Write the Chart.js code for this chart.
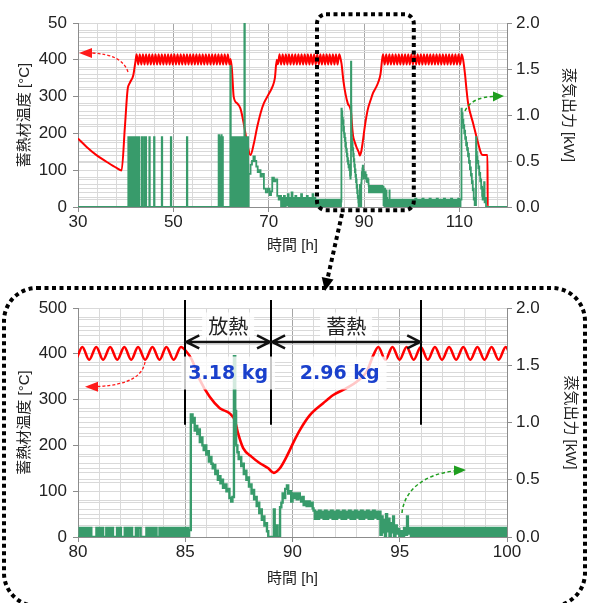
<!DOCTYPE html>
<html>
<head>
<meta charset="utf-8">
<script src="https://cdn.jsdelivr.net/npm/chart.js"></script>
<style>
html, body { margin: 0; padding: 0; background: #fff; }
#wrap { position: relative; width: 590px; height: 603px; overflow: hidden; }
#topChart { position: absolute; left: 0; top: 0; }
#bottomChart { position: absolute; left: 0; top: 285px; }
#overlay { position: absolute; left: 0; top: 0; }
</style>
</head>
<body>
<div id="wrap">
  <canvas id="topChart" width="590" height="263"></canvas>
  <canvas id="bottomChart" width="590" height="318"></canvas>
  <svg id="overlay" width="590" height="603" viewBox="0 0 590 603">
    <g fill="none" stroke="#000" stroke-width="4" stroke-dasharray="4 3.5">
      <rect x="317" y="14.3" width="96.8" height="196" rx="9"/>
      <path d="M342 214 L327.6 278.3"/>
      <rect x="4" y="288" width="581" height="318" rx="33"/>
    </g>
    <polygon points="325,291 333.5,279.6 321.7,277" fill="#000"/>
    <!-- curved arrows to the axes -->
    <path d="M128 72 C124 60 112 54 92 53" fill="none" stroke="#ff1a1a" stroke-width="1.3" stroke-dasharray="3 2"/>
    <polygon points="79,53 92,48 92,58" fill="#ff1a1a"/>
    <path d="M465 111 C469 102 479 97 493 96.5" fill="none" stroke="#1f9e1f" stroke-width="1.5" stroke-dasharray="3.5 2.5"/>
    <polygon points="504,96 493,91.5 493,101.5" fill="#1f9e1f"/>
    <path d="M145 362 C143 375 130 385 98 386.5" fill="none" stroke="#ff1a1a" stroke-width="1.3" stroke-dasharray="3 2"/>
    <polygon points="85,386.7 98,381.7 98,391.7" fill="#ff1a1a"/>
    <path d="M402 513 C404 490 425 474 454 471" fill="none" stroke="#1f9e1f" stroke-width="1.5" stroke-dasharray="3.5 2.5"/>
    <polygon points="466,470 454,465.5 454,475.5" fill="#1f9e1f"/>
  </svg>
</div>
<script>
// 蒸気出力 [kW] (stepped trace, each value holds from its hour to the next)
const steamHours = [
  30, 40.55, 40.65, 40.8, 40.9, 41.0, 41.1, 41.3, 41.4, 41.55, 41.65, 41.85, 41.95, 42.1, 42.2, 42.45, 42.55, 42.75, 42.85,
  43.35, 43.45, 43.84, 43.94, 44.2, 44.3, 44.96, 45.06, 45.95, 46.05, 47.57, 47.67, 49.47, 49.57, 52.84, 52.94,
  59.5, 59.6, 59.75, 59.85, 60.05, 60.15, 60.3, 60.4,
  61.95, 62.05, 62.2, 62.3, 62.4, 62.5, 62.6, 62.7, 62.8, 62.9, 63.0, 63.1, 63.2, 63.3, 63.4, 63.5, 63.6, 63.7, 63.8, 63.9,
  64.0, 64.1, 64.2, 64.3, 64.4, 64.5, 64.6, 64.7, 64.9, 65.0, 65.1, 65.2, 65.3, 65.4, 65.5, 65.6, 65.7,
  65.8, 66.2, 66.5, 66.8, 67.1, 67.4, 67.7, 68.0, 68.3, 68.6, 69.0, 69.4, 69.8, 70.2, 70.5, 70.75, 71.1, 71.4, 71.8, 72.1, 72.4,
  72.6, 72.8, 73.0, 73.2, 73.4, 73.6, 73.8, 74.0, 74.2, 74.4, 74.6, 74.8, 75.0, 75.2, 75.4, 75.6, 75.8, 76.0, 76.2, 76.4,
  76.6, 76.8, 77.0, 77.2, 77.4, 77.6, 77.8, 78.0, 78.2, 78.4, 78.6, 78.8, 79.0, 79.2, 79.4, 79.6, 79.8, 80.0,
  80.08, 80.15, 80.17, 80.22, 80.33, 80.4, 80.43, 80.5, 80.53, 80.62,
  80.86, 80.93, 80.96, 81.03, 81.06, 81.17, 81.32, 81.39, 81.42, 81.49, 81.52, 81.63,
  81.82, 81.89, 81.92, 82.0, 82.18, 82.25, 82.28, 82.35, 82.38, 82.45, 82.47, 82.52,
  82.7, 82.77, 82.8, 82.92, 83.19, 83.26, 83.29, 83.4, 83.45, 83.52, 83.55, 83.66,
  83.8, 83.86, 83.9, 83.96, 84.0, 84.06, 84.12, 84.18, 84.22, 84.28, 84.32, 84.4, 84.45, 84.51,
  84.55, 84.61, 84.66, 84.72, 84.76, 84.82, 84.86, 84.92, 84.97, 85.03, 85.08, 85.14, 85.18,
  85.26, 85.34, 85.38, 85.44, 85.5, 85.56, 85.62, 85.68, 85.74, 85.8, 85.86, 85.92, 85.98, 86.04, 86.1, 86.16, 86.22, 86.28,
  86.34, 86.4, 86.46, 86.52, 86.58, 86.64, 86.7, 86.76, 86.84, 86.92, 87.0, 87.06, 87.14, 87.2,
  87.27, 87.33, 87.37, 87.43, 87.49, 87.55, 87.61, 87.67, 87.73, 87.79, 87.85, 87.91, 87.97, 88.03,
  88.09, 88.15, 88.21, 88.27, 88.33, 88.39, 88.45, 88.51, 88.57, 88.63, 88.69, 88.75, 88.81, 88.87,
  89.13, 89.17, 89.27, 89.3, 89.42, 89.48, 89.54, 89.6, 89.66, 89.74, 89.8, 89.86, 89.94,
  90.0, 90.06, 90.14, 90.2, 90.28, 90.34, 90.4, 90.46, 90.52, 90.58, 90.66, 90.72, 90.8, 90.88, 90.94,
  90.98, 91.04, 91.1, 91.17, 91.24, 91.31, 91.38, 91.45, 91.52, 91.59, 91.66, 91.73, 91.8, 91.87, 91.94,
  92.01, 92.08, 92.15, 92.22, 92.29, 92.36, 92.43, 92.5, 92.57, 92.64, 92.71, 92.78, 92.85, 92.92, 92.99,
  93.06, 93.13, 93.2, 93.27, 93.34, 93.41, 93.48, 93.55, 93.62, 93.69, 93.76, 93.83, 93.9, 93.97, 94.04,
  94.1, 94.16, 94.2, 94.26, 94.31, 94.36, 94.41, 94.47, 94.52, 94.58, 94.63, 94.69, 94.73, 94.8, 94.86,
  94.92, 94.98, 95.06, 95.12, 95.2, 95.26, 95.34, 95.38,
  95.45, 95.52, 95.59, 95.66, 95.73, 95.8, 95.87, 95.94, 96.01, 96.08, 96.15, 96.22, 96.29, 96.36, 96.43, 96.5,
  96.57, 96.64, 96.71, 96.78, 96.85, 96.92, 96.99, 97.06, 97.13, 97.2, 97.27, 97.34, 97.41, 97.48, 97.55, 97.62,
  97.69, 97.76, 97.83, 97.9, 97.97, 98.04, 98.11, 98.18, 98.25, 98.32, 98.39, 98.46, 98.53, 98.6, 98.67, 98.74,
  98.81, 98.88, 98.95, 99.02, 99.09, 99.16, 99.23, 99.3, 99.37, 99.44, 99.51, 99.58, 99.65, 99.72, 99.79, 99.86,
  99.93, 100.0, 100.25, 100.5, 100.75, 101.0, 101.25, 101.5, 101.75, 102.0, 102.25, 102.5, 102.75, 103.0, 103.25, 103.5, 103.75, 104.0,
  104.25, 104.5, 104.75, 105.0, 105.25, 105.5, 105.75, 106.0, 106.25, 106.5, 106.75, 107.0, 107.25, 107.5, 107.75, 108.0, 108.25, 108.5, 108.75, 109.0, 109.25, 109.5, 109.75, 110.0, 110.25,
  110.45, 110.52, 110.6, 110.68, 110.76, 110.85, 110.94, 111.03, 111.12, 111.22, 111.32, 111.42, 111.52, 111.62, 111.72,
  111.82, 111.92, 112.02, 112.12, 112.22, 112.32, 112.42, 112.52, 112.62, 112.72, 112.82, 112.92, 113.02, 113.12, 113.22,
  113.5, 113.58, 113.68, 113.78, 113.88, 113.98, 114.08, 114.18, 114.28, 114.38, 114.48, 114.58, 114.68, 114.78, 114.88,
  115.0, 115.1, 115.2, 115.3, 115.45, 115.6, 120
];
const steamKW = [
  0, 0.76, 0, 0.76, 0, 0.76, 0, 0.76, 0, 0.76, 0, 0.76, 0, 0.76, 0, 0.76, 0, 0.76, 0,
  0.76, 0, 0.76, 0, 0.76, 0, 0.76, 0, 0.76, 0, 0.76, 0, 0.76, 0, 0.76, 0,
  0.78, 0, 0.76, 0, 0.78, 0, 0.76, 0,
  1.53, 0, 0.76, 0, 0.76, 0, 0.76, 0, 0.76, 0, 0.76, 0, 0.76, 0, 0.76, 0, 0.76, 0, 0.76, 0,
  0.76, 0, 0.76, 0, 0.76, 0, 0.76, 0, 2.0, 0.76, 0, 0.76, 0, 0.76, 0, 0.76, 0,
  0.36, 0.46, 0.5, 0.55, 0.5, 0.44, 0.38, 0.4, 0.33, 0.36, 0.2, 0.16, 0.2, 0.13, 0.17, 0.32, 0.28, 0.3, 0.12, 0.08, 0.12,
  0, 0.1, 0, 0.12, 0, 0.1, 0.02, 0.14, 0, 0.1, 0, 0.16, 0, 0.1, 0, 0.12, 0, 0.1, 0, 0.1,
  0, 0.14, 0, 0.1, 0, 0.1, 0, 0.12, 0, 0.1, 0, 0.1, 0, 0.14, 0, 0.1, 0, 0,
  0.08, 0, 0.08, 0, 0.08, 0, 0.08, 0, 0.08, 0,
  0.08, 0, 0.08, 0, 0.08, 0, 0.08, 0, 0.08, 0, 0.08, 0,
  0.08, 0, 0.08, 0, 0.08, 0, 0.08, 0, 0.08, 0, 0.08, 0,
  0.08, 0, 0.08, 0, 0.08, 0, 0.08, 0, 0.08, 0, 0.08, 0,
  0.08, 0, 0.08, 0, 0.08, 0, 0.08, 0, 0.08, 0, 0.08, 0, 0.08, 0,
  0.08, 0, 0.08, 0, 0.08, 0, 0.08, 0, 0.08, 0, 0.08, 0, 0.06,
  1.07, 1.0, 1.04, 0.93, 0.97, 0.9, 0.94, 0.83, 0.87, 0.8, 0.76, 0.8, 0.72, 0.75, 0.66, 0.7, 0.64, 0.6,
  0.63, 0.55, 0.58, 0.5, 0.53, 0.47, 0.5, 0.43, 0.46, 0.4, 0.42, 0.34, 0.31, 0.35,
  1.58, 1.1, 0.8, 0.74, 0.68, 0.7, 0.62, 0.64, 0.55, 0.58, 0.5, 0.52, 0.44, 0.46,
  0.38, 0.41, 0.33, 0.35, 0.27, 0.3, 0.21, 0.24, 0.15, 0.18, 0.1, 0.12, 0.05, 0,
  0.24, 0, 0.1, 0, 0.26, 0.3, 0.38, 0.34, 0.42, 0.45, 0.38, 0.4, 0.31,
  0.38, 0.34, 0.38, 0.33, 0.38, 0.34, 0.31, 0.35, 0.28, 0.31, 0.27, 0.31, 0.27, 0.3, 0.25,
  0.23, 0.16, 0.22, 0.16, 0.23, 0.17, 0.22, 0.16, 0.23, 0.16, 0.22, 0.17, 0.23, 0.16, 0.22,
  0.16, 0.23, 0.17, 0.22, 0.16, 0.23, 0.16, 0.22, 0.17, 0.23, 0.16, 0.22, 0.16, 0.23, 0.17,
  0.22, 0.16, 0.23, 0.16, 0.22, 0.17, 0.23, 0.16, 0.22, 0.16, 0.23, 0.17, 0.22, 0.16, 0.22,
  0.02, 0.18, 0.04, 0.15, 0, 0.2, 0.05, 0.16, 0, 0.12, 0.04, 0.18, 0, 0.1, 0.03,
  0.07, 0, 0.05, 0, 0.08, 0.02, 0.18, 0.03,
  0.08, 0, 0.08, 0, 0.08, 0, 0.08, 0, 0.08, 0, 0.08, 0, 0.08, 0, 0.08, 0,
  0.08, 0, 0.08, 0, 0.08, 0, 0.08, 0, 0.08, 0, 0.08, 0, 0.08, 0, 0.08, 0,
  0.08, 0, 0.08, 0, 0.08, 0, 0.08, 0, 0.08, 0, 0.08, 0, 0.08, 0, 0.08, 0,
  0.08, 0, 0.08, 0, 0.08, 0, 0.08, 0, 0.08, 0, 0.08, 0, 0.08, 0, 0.08, 0,
  0.08, 0, 0.08, 0, 0.09, 0, 0.08, 0, 0.08, 0.01, 0.09, 0, 0.08, 0, 0.08, 0, 0.09, 0,
  0.08, 0, 0.08, 0, 0.09, 0, 0.08, 0, 0.08, 0, 0.09, 0.01, 0.08, 0, 0.08, 0, 0.09, 0, 0.08, 0, 0.08, 0, 0.09, 0, 0.08,
  1.07, 0.98, 1.02, 0.92, 0.95, 0.86, 0.89, 0.8, 0.83, 0.74, 0.76, 0.67, 0.7, 0.62, 0.64,
  0.55, 0.58, 0.48, 0.5, 0.41, 0.43, 0.34, 0.36, 0.26, 0.28, 0.18, 0.2, 0.08, 0.1, 0.02,
  0.76, 0.6, 0.55, 0.48, 0.5, 0.42, 0.44, 0.35, 0.37, 0.28, 0.3, 0.2, 0.22, 0.12, 0.08,
  0.2, 0.1, 0.27, 0.05, 0.1, 0, 0
];

// 蓄熱材温度 [°C]
const tempHours = [
  30, 31.76, 33.87, 35.98, 38.09, 39.14, 39.84, 40.4, 40.9, 41.6, 42.05,
  42.3, 42.63, 42.96, 43.29, 43.62, 43.95, 44.28, 44.61, 44.94, 45.27, 45.6, 45.93, 46.26, 46.59, 46.92, 47.25, 47.58, 47.91, 48.24, 48.57,
  48.9, 49.23, 49.56, 49.89, 50.22, 50.55, 50.88, 51.21, 51.54, 51.87, 52.2, 52.53, 52.86, 53.19, 53.52, 53.85, 54.18, 54.51, 54.84, 55.17,
  55.5, 55.83, 56.16, 56.49, 56.82, 57.15, 57.48, 57.81, 58.14, 58.47, 58.8, 59.13, 59.46, 59.79, 60.12, 60.45, 60.78, 61.11, 61.44, 61.77,
  62.0, 62.3, 62.66, 63.37, 64.07, 64.77, 65.5, 66.18, 66.9, 67.6, 68.3, 69.0, 70.1, 70.8, 71.3, 71.7, 71.95,
  72.28, 72.61, 72.94, 73.27, 73.6, 73.93, 74.26, 74.59, 74.92, 75.25, 75.58, 75.91, 76.24, 76.57, 76.9, 77.23, 77.56, 77.89, 78.22, 78.55,
  78.88, 79.21, 79.54, 79.87, 80.2, 80.52, 80.85, 81.17, 81.5, 81.83, 82.16, 82.48, 82.8, 83.13, 83.47, 83.8, 84.12, 84.46, 84.8,
  85.05, 85.3, 85.68, 86.14, 86.61, 87.07, 87.31, 87.47, 87.7, 88.1, 88.48, 88.87, 89.13, 89.41, 89.72, 90.1, 90.35, 90.81, 91.43, 91.9, 92.52, 92.99, 93.46, 93.77,
  94.0, 94.33, 94.66, 94.99, 95.32, 95.65, 95.98, 96.31, 96.64, 96.97, 97.3, 97.63, 97.96, 98.29, 98.62, 98.95, 99.28, 99.61, 99.94, 100.27,
  100.6, 100.93, 101.26, 101.59, 101.92, 102.25, 102.58, 102.91, 103.24, 103.57, 103.9, 104.23, 104.56, 104.89, 105.22, 105.55, 105.88, 106.21, 106.54, 106.87,
  107.2, 107.53, 107.86, 108.19, 108.52, 108.85, 109.18, 109.51, 109.84, 110.17, 110.5,
  110.8, 111.2, 111.5, 111.84, 112.9, 113.95, 114.6, 114.9, 115.9, 115.95, 120
];
const tempC = [
  186, 164, 141, 123, 106, 99, 218, 318, 338, 358, 395,
  415, 387, 415, 387, 415, 387, 415, 387, 415, 387, 415, 387, 415, 387, 415, 387, 415, 387, 415, 387,
  415, 387, 415, 387, 415, 387, 415, 387, 415, 387, 415, 387, 415, 387, 415, 387, 415, 387, 415, 387,
  415, 387, 415, 387, 415, 387, 415, 387, 415, 387, 415, 387, 415, 387, 415, 387, 415, 387, 415, 387,
  402, 373, 300, 282, 268, 227, 173, 141, 173, 218, 255, 282, 309, 327, 350, 400, 388,
  415, 387, 415, 387, 415, 387, 415, 387, 415, 387, 415, 387, 415, 387, 415, 387, 415, 387, 415, 387,
  415, 387, 415, 387, 415, 387, 415, 387, 415, 387, 415, 387, 415, 387, 415, 387, 415, 387, 415,
  405, 388, 343, 306, 281, 270, 255, 225, 194, 175, 161, 150, 140, 150, 175, 212, 234, 266, 292, 310, 325, 339, 361, 397,
  415, 387, 415, 387, 415, 387, 415, 387, 415, 387, 415, 387, 415, 387, 415, 387, 415, 387, 415, 387,
  415, 387, 415, 387, 415, 387, 415, 387, 415, 387, 415, 387, 415, 387, 415, 387, 415, 387, 415, 387,
  415, 387, 415, 387, 415, 387, 415, 387, 415, 387, 415,
  400, 360, 320, 282, 227, 173, 145, 141, 141, 0, 0
];

// axes
const topXTicks = [30, 50, 70, 90, 110];
const bottomXTicks = [80, 85, 90, 95, 100];
const leftTickValues = [0, 100, 200, 300, 400, 500];
const topLeftTickText = ['0', '100', '200', '300', '400', '50'];
const bottomLeftTickText = ['0', '100', '200', '300', '400', '500'];
const rightTickValues = [0, 0.5, 1, 1.5, 2];
const rightTickText = ['0.0', '0.5', '1.0', '1.5', '2.0'];

// 放熱 / 蓄熱 annotations (bottom chart)
const markerHours = [85, 89, 96];
const markerLowC = 245;
const phaseStart = [85, 89];
const phaseEnd = [89, 96];
const phaseNames = ['放熱', '蓄熱'];
const phaseMass = ['3.18 kg', '2.96 kg'];
const massAt = [87.0, 92.2];
const arrowC = 426;
const nameC = 463;
const massC = 358;

if (steamHours.length !== steamKW.length) throw new Error('steam ' + steamHours.length + ' vs ' + steamKW.length);
if (tempHours.length !== tempC.length) throw new Error('temp ' + tempHours.length + ' vs ' + tempC.length);

const GREEN = '#389b6b';
const RED = '#ff0000';
const MAJOR = '#a6a6a6';
const MINOR = '#d9d9d9';
const AXIS = '#8c8c8c';
const TEXT = '#222222';

Chart.defaults.font.family = "'Liberation Sans', 'Noto Sans CJK JP', sans-serif";
Chart.defaults.color = TEXT;

function toPoints(xs, ys) {
    return xs.map((x, i) => ({ x: x, y: ys[i] }));
}

function stepTicks(min, max, step) {
    var t = [];
    for (let v = min; v <= max + 1e-9; v += step) {
        t.push({ value: Math.round(v * 1000) / 1000 });
    }
    return t;
}

function makeOptions(cfg) {
    const isMajorX = (v) => cfg.xTicks.includes(v);
    const leftIndex = (v) => leftTickValues.indexOf(v);
    const rightIndex = (v) => rightTickValues.indexOf(v);
    return {
        responsive: false,
        animation: false,
        events: [],
        layout: { padding: { top: cfg.padTop, left: 0, right: 0, bottom: 0 } },
        plugins: { legend: { display: false }, tooltip: { enabled: false } },
        scales: {
            x: {
                type: 'linear', min: cfg.xMin, max: cfg.xMax,
                afterBuildTicks: (axis) => { axis.ticks = stepTicks(cfg.xMin, cfg.xMax, cfg.xGrid); },
                afterFit: (axis) => { axis.height = cfg.xHeight; },
                ticks: {
                    autoSkip: false, maxRotation: 0, padding: 0, color: TEXT, font: { size: 17 },
                    callback: (v) => isMajorX(v) ? String(v) : ''
                },
                grid: {
                    color: (c) => isMajorX(c.tick.value) ? MAJOR : MINOR,
                    tickLength: 5,
                    tickColor: (c) => isMajorX(c.tick.value) ? AXIS : 'rgba(0,0,0,0)'
                },
                border: { color: AXIS },
                title: {
                    display: true, text: '時間 [h]', color: TEXT, font: { size: 15 },
                    padding: { top: 0, bottom: cfg.xTitlePad }
                }
            },
            yL: {
                type: 'linear', position: 'left', min: 0, max: 500,
                afterBuildTicks: (axis) => { axis.ticks = stepTicks(0, 500, 20); },
                afterFit: (axis) => { axis.width = 78; },
                ticks: {
                    autoSkip: false, padding: 6, color: TEXT, font: { size: 17 },
                    callback: (v) => leftIndex(v) >= 0 ? cfg.leftText[leftIndex(v)] : ''
                },
                grid: {
                    color: (c) => leftIndex(c.tick.value) >= 0 ? MAJOR : MINOR,
                    tickLength: 5,
                    tickColor: (c) => leftIndex(c.tick.value) >= 0 ? AXIS : 'rgba(0,0,0,0)'
                },
                border: { color: AXIS },
                title: {
                    display: true, text: '蓄熱材温度 [°C]', color: TEXT, font: { size: 15 },
                    padding: { top: 16, bottom: 0 }
                }
            },
            yR: {
                type: 'linear', position: 'right', min: 0, max: 2,
                afterBuildTicks: (axis) => { axis.ticks = stepTicks(0, 2, 0.1); },
                afterFit: (axis) => { axis.width = 83; },
                ticks: {
                    autoSkip: false, padding: 4, color: TEXT, font: { size: 17 },
                    callback: (v) => rightIndex(v) >= 0 ? rightTickText[rightIndex(v)] : ''
                },
                grid: {
                    color: MINOR,
                    tickLength: 5,
                    tickColor: (c) => rightIndex(c.tick.value) >= 0 ? AXIS : 'rgba(0,0,0,0)'
                },
                border: { color: AXIS },
                title: {
                    display: true, text: '蒸気出力 [kW]', color: TEXT, font: { size: 15 },
                    padding: { top: cfg.rightTitlePad, bottom: 0 }
                }
            }
        }
    };
}

function makeDatasets(redWidth, greenWidth) {
    return [{
        label: '蒸気出力',
        data: toPoints(steamHours, steamKW),
        yAxisID: 'yR',
        borderColor: GREEN,
        borderWidth: greenWidth,
        stepped: 'before',
        pointRadius: 0,
        order: 0
    }, {
        label: '蓄熱材温度',
        data: toPoints(tempHours, tempC),
        yAxisID: 'yL',
        borderColor: RED,
        borderWidth: redWidth,
        cubicInterpolationMode: 'monotone',
        pointRadius: 0,
        order: 1
    }];
}

function boxText(ctx, text, cx, cy, padX, h, font, color) {
    ctx.font = font;
    var w = ctx.measureText(text).width + padX * 2;
    ctx.fillStyle = 'rgba(255,255,255,0.78)';
    ctx.fillRect(cx - w / 2, cy - h / 2, w, h);
    ctx.fillStyle = color;
    ctx.textAlign = 'center';
    ctx.textBaseline = 'middle';
    ctx.fillText(text, cx, cy + 1);
}

const phaseNotes = {
    id: 'phaseNotes',
    afterDatasetsDraw(chart) {
        const ctx = chart.ctx;
        const x = chart.scales.x;
        const y = chart.scales.yL;
        const top = chart.chartArea.top - 8;
        const lineBottom = y.getPixelForValue(markerLowC);
        const arrowY = y.getPixelForValue(arrowC);
        ctx.save();
        ctx.strokeStyle = '#000';
        ctx.lineWidth = 2;
        markerHours.forEach((h) => {
            const px = Math.round(x.getPixelForValue(h));
            ctx.beginPath();
            ctx.moveTo(px, top);
            ctx.lineTo(px, lineBottom);
            ctx.stroke();
        });
        ctx.lineWidth = 2.5;
        ctx.strokeStyle = '#111';
        phaseStart.forEach((h0, i) => {
            const a = x.getPixelForValue(h0) + 1;
            const b = x.getPixelForValue(phaseEnd[i]) - 1;
            ctx.beginPath();
            ctx.moveTo(a, arrowY);
            ctx.lineTo(b, arrowY);
            ctx.moveTo(a + 13, arrowY - 6.5);
            ctx.lineTo(a, arrowY);
            ctx.lineTo(a + 13, arrowY + 6.5);
            ctx.moveTo(b - 13, arrowY - 6.5);
            ctx.lineTo(b, arrowY);
            ctx.lineTo(b - 13, arrowY + 6.5);
            ctx.stroke();
        });
        phaseStart.forEach((h0, i) => {
            const cx = (x.getPixelForValue(h0) + x.getPixelForValue(phaseEnd[i])) / 2;
            boxText(ctx, phaseNames[i], cx, y.getPixelForValue(nameC), 6, 25,
                "20px 'Noto Sans CJK JP', sans-serif", '#222');
            boxText(ctx, phaseMass[i], x.getPixelForValue(massAt[i]), y.getPixelForValue(massC), 7, 33,
                "bold 19px 'DejaVu Sans', sans-serif", '#1a40cc');
        });
        ctx.restore();
    }
};

new Chart(document.getElementById('topChart'), {
    type: 'line',
    data: { datasets: makeDatasets(2, 1.8) },
    options: makeOptions({
        xMin: 30, xMax: 120, xGrid: 4, xTicks: topXTicks, xHeight: 56, xTitlePad: 8,
        padTop: 23, leftText: topLeftTickText, rightTitlePad: 13
    })
});

new Chart(document.getElementById('bottomChart'), {
    type: 'line',
    data: { datasets: makeDatasets(2.6, 2.4) },
    options: makeOptions({
        xMin: 80, xMax: 100, xGrid: 1, xTicks: bottomXTicks, xHeight: 66, xTitlePad: 15,
        padTop: 23, leftText: bottomLeftTickText, rightTitlePad: 11
    }),
    plugins: [phaseNotes]
});
</script>
</body>
</html>
